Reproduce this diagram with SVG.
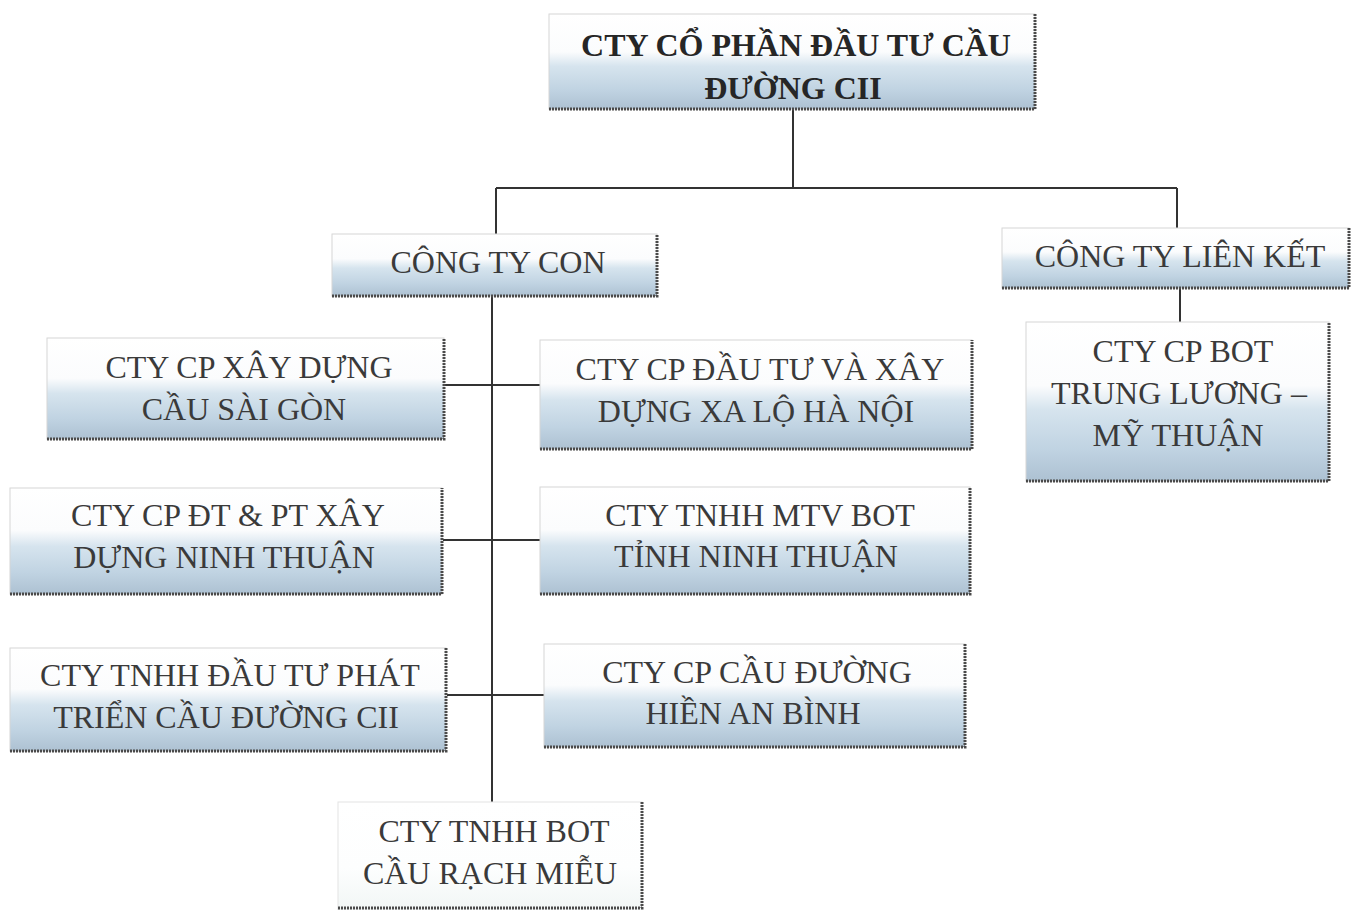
<svg xmlns="http://www.w3.org/2000/svg" width="1358" height="910" viewBox="0 0 1358 910">
<defs>
<linearGradient id="g" x1="0" y1="0" x2="0" y2="1">
<stop offset="0" stop-color="#ffffff"/>
<stop offset="0.4" stop-color="#fbfcfd"/>
<stop offset="0.55" stop-color="#d6e4ee"/>
<stop offset="0.8" stop-color="#c0d3e2"/>
<stop offset="1" stop-color="#adc1d2"/>
</linearGradient>
<linearGradient id="g2" x1="0" y1="0" x2="0" y2="1">
<stop offset="0" stop-color="#ffffff"/>
<stop offset="0.6" stop-color="#fdfefe"/>
<stop offset="1" stop-color="#f1f6f5"/>
</linearGradient>
</defs>
<style>
.box{fill:url(#g);stroke:#d6d6d6;stroke-width:1}
.box2{fill:url(#g2);stroke:#e4e4e4;stroke-width:1}
.sh{fill:none;stroke:#4a4a4a;stroke-width:3;stroke-dasharray:2 1}
.t{font-family:"Liberation Serif","Times New Roman",serif;font-size:32px;fill:#3a3a3a;text-anchor:middle}
.b{font-weight:bold;fill:#262626}
.c{fill:none;stroke:#333;stroke-width:2}
</style>
<rect width="1358" height="910" fill="#ffffff"/>
<g id="connectors">
<path class="c" d="M793 110V188M496 188H1177M496 188V234M1177 188V228M1180 289V322M492 297V802M445 385H540M443 540H540M447 695H544"/>
</g>
<g id="root">
<rect class="box" x="549" y="14" width="486" height="95"/>
<path class="sh" d="M549 109H1035V14"/>
<text class="t b" x="796" y="56">CTY CỔ PHẦN ĐẦU TƯ CẦU</text>
<text class="t b" x="793" y="99">ĐƯỜNG CII</text>
</g>
<g id="cong-ty-con">
<rect class="box" x="332" y="234" width="325" height="62"/>
<path class="sh" d="M332 296H657V234"/>
<text class="t" x="498" y="273">CÔNG TY CON</text>
</g>
<g id="cong-ty-lien-ket">
<rect class="box" x="1002" y="228" width="347" height="60"/>
<path class="sh" d="M1002 288H1349V228"/>
<text class="t" x="1180" y="267">CÔNG TY LIÊN KẾT</text>
</g>
<g id="bot-trung-luong">
<rect class="box" x="1026" y="322" width="303" height="159"/>
<path class="sh" d="M1026 481H1329V322"/>
<text class="t" x="1183" y="362">CTY CP BOT</text>
<text class="t" x="1179" y="404">TRUNG LƯƠNG –</text>
<text class="t" x="1178" y="446">MỸ THUẬN</text>
</g>
<g id="xd-cau-sai-gon">
<rect class="box" x="47" y="338" width="397" height="101"/>
<path class="sh" d="M47 439H444V338"/>
<text class="t" x="249" y="378">CTY CP XÂY DỰNG</text>
<text class="t" x="244" y="420">CẦU SÀI GÒN</text>
</g>
<g id="xa-lo-ha-noi">
<rect class="box" x="540" y="340" width="432" height="109"/>
<path class="sh" d="M540 449H972V340"/>
<text class="t" x="760" y="380">CTY CP ĐẦU TƯ VÀ XÂY</text>
<text class="t" x="756" y="422">DỰNG XA LỘ HÀ NỘI</text>
</g>
<g id="ninh-thuan">
<rect class="box" x="10" y="488" width="432" height="106"/>
<path class="sh" d="M10 594H442V488"/>
<text class="t" x="228" y="526">CTY CP ĐT &amp; PT XÂY</text>
<text class="t" x="224" y="568">DỰNG NINH THUẬN</text>
</g>
<g id="bot-ninh-thuan">
<rect class="box" x="540" y="487" width="430" height="107"/>
<path class="sh" d="M540 594H970V487"/>
<text class="t" x="760" y="526">CTY TNHH MTV BOT</text>
<text class="t" x="756" y="567">TỈNH NINH THUẬN</text>
</g>
<g id="cau-duong-cii">
<rect class="box" x="10" y="648" width="436" height="103"/>
<path class="sh" d="M10 751H446V648"/>
<text class="t" x="230" y="686">CTY TNHH ĐẦU TƯ PHÁT</text>
<text class="t" x="226" y="728">TRIỂN CẦU ĐƯỜNG CII</text>
</g>
<g id="hien-an-binh">
<rect class="box" x="544" y="644" width="421" height="103"/>
<path class="sh" d="M544 747H965V644"/>
<text class="t" x="757" y="683">CTY CP CẦU ĐƯỜNG</text>
<text class="t" x="753" y="724">HIỀN AN BÌNH</text>
</g>
<g id="rach-mieu">
<rect class="box2" x="338" y="802" width="304" height="110"/>
<path class="sh" d="M338 908H642V802" stroke-width="2"/>
<text class="t" x="494" y="842">CTY TNHH BOT</text>
<text class="t" x="490" y="884">CẦU RẠCH MIỄU</text>
</g>
</svg>
